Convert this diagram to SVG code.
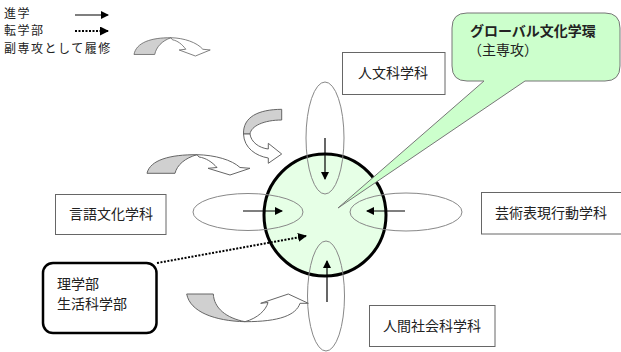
<svg xmlns="http://www.w3.org/2000/svg" width="621" height="352" viewBox="0 0 621 352">
<style>
text{font-family:"Noto Sans CJK JP","Noto Sans CJK SC",sans-serif;fill:#222;font-size:14px}
.leg{font-size:12px;letter-spacing:1.5px}
.box{fill:#fff;stroke:#666;stroke-width:1}
.ell{fill:none;stroke:#888;stroke-width:1}
.solid{stroke:#000;stroke-width:1.2;fill:none;marker-end:url(#ah)}
.dot{stroke:#000;stroke-width:2;stroke-dasharray:2 1.5;fill:none;marker-end:url(#ah2)}
.cg{fill:#d0d0d0;stroke:#666;stroke-width:1}
.cw{fill:#fff;stroke:#666;stroke-width:1}
</style>
<defs>
<marker id="ah" markerWidth="8" markerHeight="8" refX="7" refY="4" orient="auto" markerUnits="userSpaceOnUse"><path d="M0,0 L8,4 L0,8 Z" fill="#000"/></marker>
<marker id="ah2" markerWidth="9" markerHeight="9" refX="8" refY="4.5" orient="auto" markerUnits="userSpaceOnUse"><path d="M0,0 L9,4.5 L0,9 Z" fill="#000"/></marker>
<g id="cArrow">
<path class="cg" d="M0,18.3 C3,5 23,-0.5 50,-0.3 C38,3 30,10 28,18.3 Z"/>
<path class="cw" d="M50,-0.3 C68,0 85,5 93,12.5 L103,13.3 L83,20 L61,13.3 L70,12.5 C65,7 59,3 52,2 Z"/>
</g>
</defs>
<rect width="621" height="352" fill="#fff"/>

<g id="legend">
<text class="leg" x="4" y="17.5">進学</text>
<text class="leg" x="4" y="35">転学部</text>
<text class="leg" x="4" y="52.5">副専攻として履修</text>
<line x1="75" y1="15" x2="108" y2="15" class="solid"/>
<line x1="75" y1="31" x2="108" y2="31" class="dot"/>
<use href="#cArrow" transform="translate(134,38) scale(0.74,0.9)"/>
</g>

<g id="center">
<circle cx="325" cy="215" r="61" fill="#e6ffe6" stroke="#000" stroke-width="3"/>
</g>

<g id="callout">
<path d="M467,13 H605 Q620,13 620,28 V66 Q620,81 605,81 H525 L338,208 L484,81 H467 Q452,81 452,66 V28 Q452,13 467,13 Z" fill="#ccffcc" stroke="#777" stroke-width="1"/>
<text x="470" y="36" font-weight="bold">グローバル文化学環</text>
<text x="468" y="55" font-size="13">（主専攻）</text>
</g>

<g id="ellipses">
<ellipse class="ell" cx="325" cy="138" rx="19" ry="56"/>
<ellipse class="ell" cx="326" cy="296" rx="18.5" ry="55"/>
<ellipse class="ell" cx="248" cy="212" rx="55" ry="18.5"/>
<ellipse class="ell" cx="406" cy="212" rx="56" ry="19"/>
</g>

<g id="jinbun">
<rect class="box" x="342.5" y="52.5" width="102.5" height="42"/>
<text x="393" y="78" text-anchor="middle">人文科学科</text>
</g>
<g id="gengo">
<rect class="box" x="55.5" y="194.5" width="110.5" height="40"/>
<text x="111" y="219" text-anchor="middle">言語文化学科</text>
</g>
<g id="geijutsu">
<rect class="box" x="481.5" y="192.5" width="140" height="41.5"/>
<text x="495" y="218">芸術表現行動学科</text>
</g>
<g id="ningen">
<rect class="box" x="369.5" y="305.5" width="125.5" height="41"/>
<text x="432" y="331" text-anchor="middle">人間社会科学科</text>
</g>
<g id="rigaku">
<rect x="43" y="263" width="113.5" height="70" rx="10" ry="10" fill="#fff" stroke="#000" stroke-width="2.5"/>
<text x="57" y="289">理学部</text>
<text x="57" y="309">生活科学部</text>
</g>

<g id="connectors">
<line x1="325" y1="138" x2="325" y2="179" class="solid"/>
<line x1="243" y1="211" x2="282" y2="211" class="solid"/>
<line x1="405" y1="211" x2="367" y2="211" class="solid"/>
<line x1="327" y1="302" x2="327" y2="261" class="solid"/>
<line x1="157" y1="263" x2="306" y2="236" class="dot"/>
<use href="#cArrow" transform="translate(147,155)"/>
<g id="uArrow">
<path class="cg" d="M281.7,109.3 C258,109.5 243,117 243.5,134 L250,134 C251,126 264,120 281.7,120 Z"/>
<path class="cw" d="M243.5,134 C244,148 256,156 268.3,158 L268.3,163.3 L281.7,154 L268.3,143.3 L268.3,149 C259,148 251,142 250,134 Z"/>
</g>
<g id="bArrow">
<path class="cg" d="M186.7,294 L213.3,294 C214,308 226,318 245,321.7 C215,321 190,312 186.7,294 Z"/>
<path class="cw" d="M245,321.7 C258,318 266,310 268,302.5 L260.7,303.3 L288.3,294 L308.3,303.3 L300,303.3 C296,315 280,321.7 245,321.7 Z"/>
</g>
</g>
</svg>
